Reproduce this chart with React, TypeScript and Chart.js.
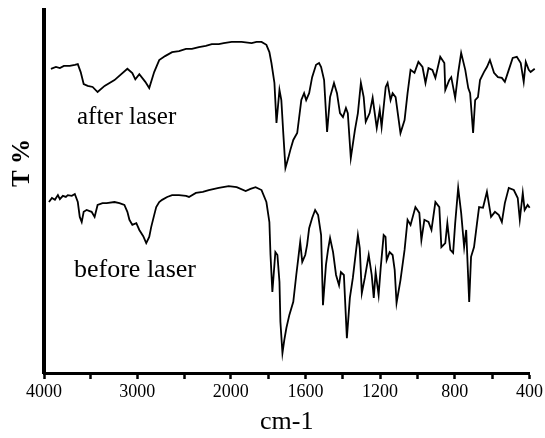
import React, { useEffect, useRef } from "react";
import { Chart, registerables } from "chart.js";

Chart.register(...registerables);

// wavenumbers (cm-1) and transmittance (arbitrary %)
const afterWn = [3926, 3872, 3830, 3787, 3724, 3670, 3638, 3607, 3575, 3532, 3479, 3426, 3351, 3245, 3107, 3054, 3022, 2979, 2915, 2873, 2820, 2766, 2703, 2628, 2554, 2479, 2416, 2341, 2267, 2203, 2128, 2075, 1995, 1942, 1888, 1862, 1835, 1809, 1793, 1782, 1766, 1755, 1739, 1729, 1718, 1707, 1692, 1681, 1665, 1644, 1622, 1607, 1596, 1580, 1564, 1543, 1527, 1516, 1500, 1484, 1468, 1447, 1431, 1415, 1399, 1383, 1373, 1357, 1335, 1319, 1303, 1288, 1277, 1256, 1240, 1218, 1202, 1192, 1170, 1160, 1144, 1133, 1117, 1091, 1069, 1053, 1037, 1016, 995, 973, 957, 941, 920, 904, 878, 856, 851, 830, 819, 798, 782, 766, 744, 728, 718, 702, 691, 676, 665, 644, 628, 612, 590, 569, 548, 532, 511, 490, 468, 447, 431, 420, 404, 394, 372];
const afterT = [83.8, 84.3, 84.0, 84.6, 84.6, 84.9, 85.1, 82.9, 79.6, 79.1, 78.8, 77.4, 79.1, 80.7, 83.8, 82.6, 80.9, 82.3, 80.2, 78.5, 82.9, 86.2, 87.3, 88.4, 88.7, 89.3, 89.3, 89.8, 90.1, 90.6, 90.6, 90.9, 91.2, 91.2, 90.9, 91.2, 91.2, 90.4, 88.4, 85.4, 79.9, 68.9, 78.0, 75.2, 65.6, 56.5, 59.2, 61.4, 64.2, 66.1, 75.2, 77.1, 75.2, 77.1, 81.5, 84.9, 85.4, 84.3, 80.7, 66.4, 76.0, 79.9, 77.1, 71.6, 70.5, 73.0, 71.6, 59.2, 66.9, 71.6, 79.9, 76.0, 69.2, 71.6, 75.8, 67.5, 72.5, 67.8, 78.8, 79.9, 75.2, 77.1, 76.0, 66.1, 69.7, 77.1, 83.5, 82.7, 85.7, 84.3, 79.9, 84.0, 83.5, 81.3, 87.1, 85.4, 78.0, 80.7, 81.5, 75.8, 82.7, 88.2, 83.5, 78.5, 77.1, 66.1, 75.2, 76.0, 80.7, 82.9, 84.3, 86.2, 82.7, 81.5, 81.3, 80.2, 83.5, 86.8, 87.1, 85.4, 80.2, 85.7, 83.5, 82.9, 83.8];

const beforeWn = [3947, 3915, 3883, 3851, 3830, 3798, 3766, 3745, 3702, 3670, 3638, 3617, 3596, 3575, 3543, 3511, 3490, 3458, 3426, 3373, 3330, 3245, 3192, 3139, 3107, 3085, 3054, 3011, 2979, 2937, 2905, 2873, 2852, 2820, 2798, 2766, 2735, 2681, 2628, 2554, 2479, 2447, 2373, 2299, 2235, 2128, 2022, 1968, 1920, 1894, 1867, 1835, 1809, 1793, 1787, 1777, 1761, 1750, 1739, 1734, 1723, 1713, 1702, 1686, 1665, 1649, 1638, 1628, 1617, 1601, 1591, 1580, 1564, 1548, 1532, 1516, 1506, 1490, 1479, 1468, 1452, 1436, 1420, 1410, 1394, 1378, 1362, 1346, 1319, 1309, 1298, 1282, 1261, 1245, 1234, 1224, 1208, 1197, 1181, 1171, 1165, 1149, 1133, 1122, 1112, 1091, 1069, 1053, 1037, 1011, 990, 979, 963, 941, 925, 904, 883, 872, 851, 840, 824, 809, 798, 782, 766, 750, 739, 723, 713, 697, 681, 670, 649, 628, 606, 585, 564, 548, 532, 511, 484, 463, 452, 436, 426, 410, 399];
const beforeT = [47.1, 48.2, 47.7, 49.0, 47.9, 48.8, 48.5, 49.0, 48.8, 49.3, 47.1, 43.0, 41.6, 44.4, 44.9, 44.6, 44.4, 43.0, 46.3, 46.8, 46.8, 47.1, 46.8, 46.3, 44.4, 42.2, 40.8, 41.3, 39.4, 37.7, 35.8, 37.5, 40.2, 43.5, 45.7, 47.1, 47.7, 48.5, 49.0, 49.0, 48.8, 48.5, 49.6, 49.9, 50.4, 51.0, 51.5, 51.2, 50.1, 50.7, 51.2, 50.4, 47.1, 41.6, 32.5, 22.3, 33.3, 32.5, 25.1, 14.1, 5.5, 9.1, 12.4, 16.0, 19.6, 27.0, 31.7, 36.1, 30.6, 32.5, 35.3, 39.9, 42.7, 44.9, 43.5, 38.0, 18.7, 29.8, 33.9, 37.2, 33.3, 27.0, 24.2, 27.8, 27.0, 9.6, 20.7, 26.2, 38.0, 34.4, 22.0, 26.2, 32.5, 27.0, 20.7, 27.8, 21.5, 28.9, 38.0, 37.5, 31.1, 33.3, 32.5, 28.4, 19.3, 25.6, 33.9, 42.2, 40.8, 45.7, 44.1, 36.6, 42.2, 41.6, 39.4, 47.1, 45.7, 34.7, 35.8, 41.3, 33.9, 33.1, 41.3, 51.0, 44.1, 34.7, 39.4, 19.6, 32.0, 34.7, 41.3, 45.7, 45.5, 49.9, 43.0, 44.4, 43.5, 41.6, 46.8, 51.0, 50.4, 48.2, 42.2, 49.6, 44.9, 46.3, 45.5];

const tickWn = [4000, 3500, 3000, 2500, 2000, 1800, 1600, 1400, 1200, 1000, 800, 600, 400];
const labelledWn = [4000, 3000, 2000, 1600, 1200, 800, 400];

const xTitle = "cm-1";
const yTitle = "T %";
const afterLabel = "after laser";
const beforeLabel = "before laser";

// axis is compressed 2:1 above 2000 cm-1
const toAxis = (wn: number) => (wn > 2000 ? 2000 + (wn - 2000) / 2 : wn);
const fromAxis = (t: number) => (t > 2000 ? 2000 + 2 * (t - 2000) : t);

const SERIF = "'Liberation Serif', 'Times New Roman', serif";

const textPlugin = {
  id: "textPlugin",
  afterDraw(chart: any) {
    const ctx = chart.ctx;
    ctx.save();
    ctx.fillStyle = "#000";
    ctx.textAlign = "left";
    ctx.textBaseline = "alphabetic";
    ctx.font = `25px ${SERIF}`;
    ctx.fillText(afterLabel, 77, 124);
    ctx.font = `26px ${SERIF}`;
    ctx.fillText(beforeLabel, 74, 277);
    ctx.translate(23, 163);
    ctx.rotate(-Math.PI / 2);
    ctx.textAlign = "center";
    ctx.textBaseline = "middle";
    ctx.font = `bold 25px ${SERIF}`;
    ctx.fillText(yTitle, 0, 0);
    ctx.restore();
  },
};

export default function App() {
  const ref = useRef<HTMLCanvasElement>(null);
  useEffect(() => {
    if (!ref.current) return;
    const chart = new Chart(ref.current, {
      type: "line",
      data: {
        datasets: [
          {
            data: afterWn.map((w, i) => ({ x: toAxis(w), y: afterT[i] })),
            borderColor: "#000",
            borderWidth: 1.8,
            pointRadius: 0,
            tension: 0,
            clip: false,
          } as any,
          {
            data: beforeWn.map((w, i) => ({ x: toAxis(w), y: beforeT[i] })),
            borderColor: "#000",
            borderWidth: 1.8,
            pointRadius: 0,
            tension: 0,
            clip: false,
          } as any,
        ],
      },
      options: {
        animation: false,
        responsive: false,
        layout: { padding: { top: 10, right: 12, left: 0, bottom: 0 } },
        plugins: { legend: { display: false }, tooltip: { enabled: false } },
        scales: {
          x: {
            type: "linear",
            reverse: true,
            min: 400,
            max: 3000,
            afterBuildTicks: (scale: any) => {
              scale.ticks = tickWn.map((w) => ({ value: toAxis(w) }));
            },
            afterFit: (scale: any) => {
              scale.height = 65;
            },
            border: { display: true, color: "#000", width: 3 },
            grid: {
              display: true,
              drawOnChartArea: false,
              drawTicks: true,
              tickLength: 6,
              tickWidth: 2.5,
              tickColor: "#000",
              color: "#000",
            },
            ticks: {
              autoSkip: false,
              maxRotation: 0,
              padding: 2,
              color: "#000",
              font: { family: SERIF, size: 18 },
              callback: (v: any) => {
                const w = Math.round(fromAxis(Number(v)));
                return labelledWn.includes(w) ? String(w) : "";
              },
            },
            title: {
              display: true,
              text: xTitle,
              color: "#000",
              font: { family: SERIF, size: 26 },
              padding: { top: 0, bottom: 0 },
            },
          },
          y: {
            min: 0,
            max: 100,
            afterFit: (scale: any) => {
              scale.width = 44;
            },
            border: { display: true, color: "#000", width: 4 },
            grid: { display: false },
            ticks: { display: false },
          },
        },
      } as any,
      plugins: [textPlugin],
    });
    return () => chart.destroy();
  }, []);
  return (
    <div style={{ position: "fixed", left: 0, top: 0, width: 545, height: 438, background: "#fff" }}>
      <canvas ref={ref} width={545} height={438} />
    </div>
  );
}
